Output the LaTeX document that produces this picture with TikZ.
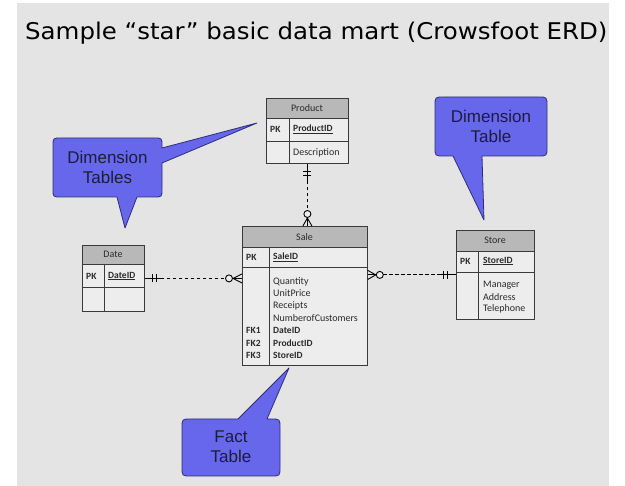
\documentclass[tikz,border=0pt]{standalone}
\usepackage{fontspec}
\setmainfont{Carlito}
\newfontfamily\titlefont{DejaVu Sans}
\newfontfamily\calloutfont{Liberation Sans}

\definecolor{pagebg}{HTML}{E4E4E4}
\definecolor{tablebody}{HTML}{EDEDED}
\definecolor{tablehead}{HTML}{B8B8B8}
\definecolor{tableline}{HTML}{3A3A3A}
\definecolor{tabletext}{HTML}{2A2A2A}
\definecolor{calloutfill}{HTML}{6767EC}
\definecolor{calloutline}{HTML}{2E2E78}
\definecolor{callouttext}{HTML}{1C1C3C}

\tikzset{
  tableframe/.style={draw=tableline, fill=tablebody, line width=0.8pt,
    inner sep=0pt, anchor=north west},
  tline/.style={draw=tableline, line width=0.8pt},
  hdr/.style={text=tabletext, inner sep=0pt, font=\fontsize{10}{11}\selectfont},
  keytext/.style={text=tabletext, inner sep=0pt, anchor=west,
    font=\fontsize{9.5}{11}\selectfont\bfseries},
  fieldtext/.style={text=tabletext, inner sep=0pt, anchor=west,
    font=\fontsize{10}{11}\selectfont},
  link/.style={draw=black, line width=0.9pt},
  dashedlink/.style={link, dash pattern=on 3.5pt off 2.5pt},
  ringend/.style={link, fill=tablebody},
  callout/.style={fill=calloutfill, draw=calloutline, line width=0.8pt, line join=round},
  callouttxt/.style={text=callouttext, align=center, inner sep=0pt,
    font=\calloutfont\fontsize{17}{20}\selectfont},
}

\begin{document}
\begin{tikzpicture}[x=1pt, y=-1pt]
\useasboundingbox (0,0) rectangle (625,486);
\fill[pagebg] (17,3) rectangle (609,486);

% title
\node[anchor=base west, inner sep=0pt, font=\titlefont\fontsize{23}{27}\selectfont]
  (title) at (25,40) {\scalebox{1.064}[1]{Sample “star” basic data mart (Crowsfoot ERD)}};

% ---------- Product ----------
\node[tableframe, minimum width=82pt, minimum height=65pt] (product) at (266,98) {};
\fill[tablehead] (266,98) rectangle (348,118);
\draw[tline] (266,118) -- (348,118);
\draw[tline] (266,141) -- (348,141);
\draw[tline] (289,118) -- (289,163);
\draw[tline] (product.north west) rectangle (product.south east);
\node[hdr] (productname) at (307,108) {Product};
\node[keytext] (productpk) at (270,129.5) {PK};
\node[keytext] (productid) at (293,129.5) {\underline{ProductID}};
\node[fieldtext] (productdesc) at (293,153) {Description};

% ---------- Sale ----------
\node[tableframe, minimum width=125pt, minimum height=139pt] (sale) at (242,226) {};
\fill[tablehead] (242,226) rectangle (367,247);
\draw[tline] (242,247) -- (367,247);
\draw[tline] (242,267) -- (367,267);
\draw[tline] (269,247) -- (269,365);
\draw[tline] (sale.north west) rectangle (sale.south east);
\node[hdr] (salename) at (304.5,237) {Sale};
\node[keytext] (salepk) at (246,257) {PK};
\node[keytext] (saleid) at (273,257) {\underline{SaleID}};
\node[fieldtext] (f1) at (273,281.5) {Quantity};
\node[fieldtext] (f2) at (273,293.5) {UnitPrice};
\node[fieldtext] (f3) at (273,306) {Receipts};
\node[fieldtext] (f4) at (273,318) {NumberofCustomers};
\node[keytext] (f5) at (273,330.5) {DateID};
\node[keytext] (f6) at (273,343) {ProductID};
\node[keytext] (f7) at (273,355) {StoreID};
\node[keytext] (fk1) at (246,330.5) {FK1};
\node[keytext] (fk2) at (246,343) {FK2};
\node[keytext] (fk3) at (246,355) {FK3};

% ---------- Date ----------
\node[tableframe, minimum width=62pt, minimum height=66pt] (date) at (82,245) {};
\fill[tablehead] (82,245) rectangle (144,264);
\draw[tline] (82,264) -- (144,264);
\draw[tline] (82,287) -- (144,287);
\draw[tline] (104,264) -- (104,311);
\draw[tline] (date.north west) rectangle (date.south east);
\node[hdr] (datename) at (113,254.5) {Date};
\node[keytext] (datepk) at (86,276) {PK};
\node[keytext] (dateid) at (108,276) {\underline{DateID}};

% ---------- Store ----------
\node[tableframe, minimum width=78pt, minimum height=89pt] (store) at (456,230) {};
\fill[tablehead] (456,230) rectangle (534,251);
\draw[tline] (456,251) -- (534,251);
\draw[tline] (456,272) -- (534,272);
\draw[tline] (478,251) -- (478,319);
\draw[tline] (store.north west) rectangle (store.south east);
\node[hdr] (storename) at (495,240.5) {Store};
\node[keytext] (storepk) at (460,261) {PK};
\node[keytext] (storeid) at (483,261) {\underline{StoreID}};
\node[fieldtext] (s1) at (483,285) {Manager};
\node[fieldtext] (s2) at (483,297) {Address};
\node[fieldtext] (s3) at (483,309) {Telephone};

% ---------- relationships ----------
% Product (one) to Sale (zero or many)
\coordinate (pA) at (product.south);
\coordinate (pB) at (product.south |- sale.north);
\draw[link] (pA) -- ([yshift=-17pt]pA);
\draw[link] ([xshift=-4pt,yshift=-8pt]pA) -- ([xshift=4pt,yshift=-8pt]pA);
\draw[link] ([xshift=-4pt,yshift=-12pt]pA) -- ([xshift=4pt,yshift=-12pt]pA);
\draw[dashedlink] ([yshift=-17pt]pA) -- ([yshift=15.5pt]pB);
\draw[link] ([xshift=-4.5pt]pB) -- ([yshift=8pt]pB) -- ([xshift=4.5pt]pB);
\draw[link] ([yshift=8pt]pB) -- (pB);
\draw[ringend] ([yshift=12pt]pB) circle (3.5pt);

% Date (one) to Sale (zero or many)
\coordinate (dA) at (date.east);
\coordinate (dB) at (sale.west |- date.east);
\draw[link] (dA) -- ([xshift=16pt]dA);
\draw[link] ([xshift=8pt,yshift=-4pt]dA) -- ([xshift=8pt,yshift=4pt]dA);
\draw[link] ([xshift=12pt,yshift=-4pt]dA) -- ([xshift=12pt,yshift=4pt]dA);
\draw[dashedlink] ([xshift=16pt]dA) -- ([xshift=-16.5pt]dB);
\draw[link] ([yshift=4.5pt]dB) -- ([xshift=-9pt]dB) -- ([yshift=-4.5pt]dB);
\draw[link] ([xshift=-9pt]dB) -- (dB);
\draw[ringend] ([xshift=-13pt]dB) circle (3.5pt);

% Sale (zero or many) to Store (one)
\coordinate (sA) at (sale.east |- store.west);
\coordinate (sB) at (store.west);
\draw[link] ([yshift=4.5pt]sA) -- ([xshift=8pt]sA) -- ([yshift=-4.5pt]sA);
\draw[link] (sA) -- ([xshift=8pt]sA);
\draw[ringend] ([xshift=12pt]sA) circle (3.5pt);
\draw[dashedlink] ([xshift=15.5pt]sA) -- ([xshift=-16pt]sB);
\draw[link] ([xshift=-16pt]sB) -- (sB);
\draw[link] ([xshift=-13pt,yshift=-4pt]sB) -- ([xshift=-13pt,yshift=4pt]sB);
\draw[link] ([xshift=-9pt,yshift=-4pt]sB) -- ([xshift=-9pt,yshift=4pt]sB);

% ---------- callouts ----------
\draw[callout] (61,138) -- (154,138) .. controls (162,138) .. (162,146)
  -- (162,148) -- (257,123) -- (162,163) -- (162,189)
  .. controls (162,197) .. (154,197) -- (137,197) -- (125,228) -- (117,197)
  -- (61,197) .. controls (53,197) .. (53,189) -- (53,146)
  .. controls (53,138) .. (61,138) -- cycle;
\node[callouttxt] (dimtables) at (107.5,167) {Dimension\\Tables};

\draw[callout] (444,97) -- (538,97) .. controls (547,97) .. (547,106)
  -- (547,147) .. controls (547,156) .. (538,156) -- (482,156) -- (484,220)
  -- (453,156) -- (444,156) .. controls (435,156) .. (435,147) -- (435,106)
  .. controls (435,97) .. (444,97) -- cycle;
\node[callouttxt] (dimtable) at (491,126) {Dimension\\Table};

\draw[callout] (191,419) -- (238,419) -- (289,368) -- (267,419) -- (271,419)
  .. controls (280,419) .. (280,428) -- (280,467) .. controls (280,476) .. (271,476)
  -- (191,476) .. controls (182,476) .. (182,467) -- (182,428)
  .. controls (182,419) .. (191,419) -- cycle;
\node[callouttxt] (facttable) at (231,447) {Fact\\Table};
\end{tikzpicture}
\end{document}
